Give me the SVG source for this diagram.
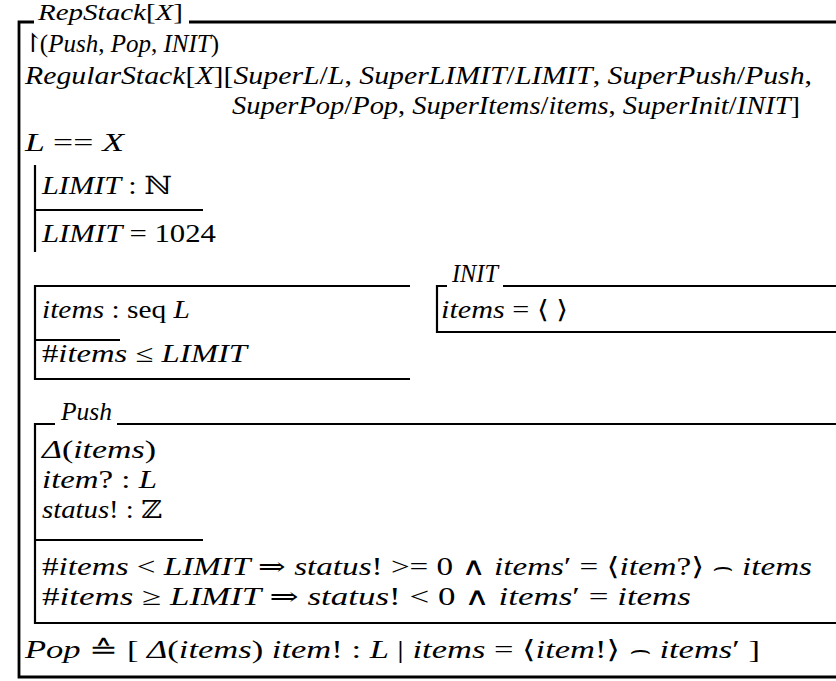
<svg xmlns="http://www.w3.org/2000/svg" width="836" height="681" viewBox="0 0 836 681">
<style>
.t{font-family:"Liberation Serif","DejaVu Serif",serif;font-size:25px;font-style:italic;fill:#000}
.u{font-style:normal}
.ln{stroke:#000;stroke-width:2.2;fill:none}
.lo{stroke:#000;stroke-width:2.8;fill:none}
</style>
<rect width="836" height="681" fill="#fff"/>
<g id="RepStack">
<path class="lo" d="M34,22 H19 V677 H836 M189,22 H836"/>
<text class="t" x="38" y="20" textLength="145" lengthAdjust="spacingAndGlyphs" style="font-size:23px">RepStack<tspan class="u">[</tspan>X<tspan class="u">]</tspan></text>
<text class="t" x="22" y="52"><tspan class="u" style="font-size:26px">↾</tspan><tspan class="u" dx="-4">(</tspan>Push<tspan class="u">, </tspan>Pop<tspan class="u">, </tspan>INIT<tspan class="u">)</tspan></text>
<text class="t" x="25" y="84" textLength="787" lengthAdjust="spacingAndGlyphs">RegularStack<tspan class="u">[</tspan>X<tspan class="u">][</tspan>SuperL<tspan class="u">/</tspan>L<tspan class="u">, </tspan>SuperLIMIT<tspan class="u">/</tspan>LIMIT<tspan class="u">, </tspan>SuperPush<tspan class="u">/</tspan>Push<tspan class="u">,</tspan></text>
<text class="t" x="232" y="114" textLength="568" lengthAdjust="spacingAndGlyphs">SuperPop<tspan class="u">/</tspan>Pop<tspan class="u">, </tspan>SuperItems<tspan class="u">/</tspan>items<tspan class="u">, </tspan>SuperInit<tspan class="u">/</tspan>INIT<tspan class="u">]</tspan></text>
<text class="t" x="25" y="151" textLength="99" lengthAdjust="spacingAndGlyphs">L <tspan class="u">==</tspan> X</text>
</g>
<g id="LimitAxdef">
<path class="ln" d="M35,165 V252 M35,210 H203"/>
<text class="t" x="42" y="194" textLength="130" lengthAdjust="spacingAndGlyphs">LIMIT <tspan class="u">: ℕ</tspan></text>
<text class="t" x="42" y="242" textLength="174" lengthAdjust="spacingAndGlyphs">LIMIT <tspan class="u">= 1024</tspan></text>
</g>
<g id="State">
<path class="ln" d="M410,286 H35 V379 H410 M35,340 H120"/>
<text class="t" x="42" y="318" textLength="148" lengthAdjust="spacingAndGlyphs">items <tspan class="u">: seq </tspan>L</text>
<text class="t" x="42" y="362" textLength="205" lengthAdjust="spacingAndGlyphs"><tspan class="u">#</tspan>items <tspan class="u">≤ </tspan>LIMIT</text>
</g>
<g id="INIT">
<path class="ln" d="M447,286 H437 V332 H836 M503,286 H836"/>
<text class="t" x="452" y="282" textLength="46" lengthAdjust="spacingAndGlyphs">INIT</text>
<text class="t" x="441" y="318" textLength="127" lengthAdjust="spacingAndGlyphs">items <tspan class="u">= ⟨ ⟩</tspan></text>
</g>
<g id="Push">
<path class="ln" d="M55,424 H35 V623 H836 M117,424 H836 M35,540 H203"/>
<text class="t" x="61" y="420" textLength="51" lengthAdjust="spacingAndGlyphs">Push</text>
<text class="t" x="42" y="458" textLength="114" lengthAdjust="spacingAndGlyphs">Δ<tspan class="u">(</tspan>items<tspan class="u">)</tspan></text>
<text class="t" x="42" y="488" textLength="115" lengthAdjust="spacingAndGlyphs">item<tspan class="u">? : </tspan>L</text>
<text class="t" x="42" y="518" textLength="120" lengthAdjust="spacingAndGlyphs">status<tspan class="u">! : ℤ</tspan></text>
<text class="t" x="42" y="575" textLength="770" lengthAdjust="spacingAndGlyphs"><tspan class="u">#</tspan>items <tspan class="u">&lt; </tspan>LIMIT <tspan class="u">⇒ </tspan>status<tspan class="u">! &gt;= 0 ∧ </tspan>items<tspan class="u">′ = ⟨</tspan>item<tspan class="u">?⟩ ⌢ </tspan>items</text>
<text class="t" x="42" y="605" textLength="649" lengthAdjust="spacingAndGlyphs"><tspan class="u">#</tspan>items <tspan class="u">≥ </tspan>LIMIT <tspan class="u">⇒ </tspan>status<tspan class="u">! &lt; 0 ∧ </tspan>items<tspan class="u">′ = </tspan>items</text>
</g>
<g id="Pop">
<text class="t" x="25" y="658" textLength="735" lengthAdjust="spacingAndGlyphs">Pop <tspan class="u">≙ [ </tspan>Δ<tspan class="u">(</tspan>items<tspan class="u">) </tspan>item<tspan class="u">! : </tspan>L <tspan class="u">| </tspan>items <tspan class="u">= ⟨</tspan>item<tspan class="u">!⟩ ⌢ </tspan>items<tspan class="u">′ ]</tspan></text>
</g>
<g id="connectors"/>
</svg>
